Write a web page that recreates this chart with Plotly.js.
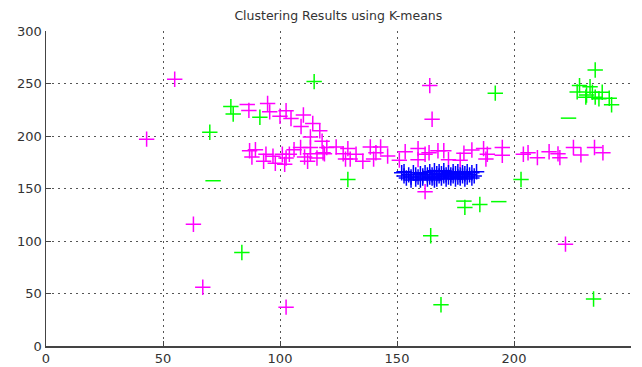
<!DOCTYPE html>
<html>
<head>
<meta charset="utf-8">
<script src="https://cdn.plot.ly/plotly-3.0.1.min.js"></script>
<style>html,body{margin:0;padding:0;background:#fff;}#chart{width:642px;height:367px;}</style>
</head>
<body>
<div id="chart"></div>
<script>
// Cluster 1 (magenta)
var magentaX = [43, 55, 63, 67, 102.6, 164, 165, 162, 222,
  86.7, 94.7, 95.6, 100, 102.6, 104.7, 110, 109, 114, 113, 117, 118, 118.4, 113,
  87, 89.5, 88, 94, 93, 97, 98, 101, 102, 102.6, 104, 106, 108.8, 110.5, 111.8, 113, 115.8, 119, 120,
  124, 127, 128, 129, 130, 132.5, 135.4, 138.6, 140, 141, 143, 146, 151, 153.5, 159, 159, 162, 163.7,
  167.5, 170, 172, 177, 178.6, 182, 187, 188, 188.6, 195, 195, 204, 206, 210, 215, 218.8, 219.6,
  225.4, 228.6, 234.4, 238];
var magentaY = [197, 254, 116, 56, 37, 248, 216, 147, 97,
  224.4, 231, 223, 218.8, 224, 216.6, 220, 209, 212, 199, 205, 195, 184, 189,
  186, 187, 180, 182.6, 176, 180.7, 174, 182.6, 173, 179, 182.6, 187, 189, 180, 176, 183, 179, 183, 189,
  189.5, 183, 178, 188, 178, 182.6, 176, 189.5, 178, 184, 189.5, 181, 177, 185, 188, 177.5, 182.6, 184,
  186, 186, 177.5, 177, 183.5, 186.6, 188, 178, 182.6, 189, 181.6, 182.6, 184, 179.4, 185, 183, 179.4,
  189, 182, 189, 184];
var magentaBarX = [86];
var magentaBarY = [230];

// Cluster 2 (green)
var greenX = [114.6, 79, 80, 91.4, 70, 83.7, 129, 164.4, 168.8, 179, 185.4, 192, 203, 234,
  234.7, 228, 227, 232.5, 231, 233.5, 230.7, 236.3, 237.7, 240.7, 241.7, 234.7];
var greenY = [251.8, 228, 221, 217.8, 203.6, 89, 158.6, 105, 39.3, 132, 134.7, 240.8, 158.6, 44.7,
  262.8, 248, 242, 247, 239, 241.7, 237, 235.4, 241.7, 236, 229.8, 237];
var greenBarX = [71.4, 178.6, 193.5, 223.3];
var greenBarY = [157.4, 138, 137.5, 217];

// Cluster 3 (blue)
var blueX = [152, 153, 154, 155, 156, 157, 158, 158, 159, 160, 161, 161, 162, 163, 163, 164, 164, 165, 165,
  166, 166, 167, 167, 168, 168, 169, 169, 170, 170, 171, 171, 172, 172, 173, 173, 174, 174, 175, 175,
  176, 176, 177, 177, 178, 178, 179, 179, 180, 180, 181, 182, 182, 183, 184, 153, 156, 160, 166];
var blueY = [165, 162, 160, 163, 161, 165, 159, 163, 161, 164, 160, 162, 165, 159, 163, 161, 166, 160, 163,
  167, 161, 164, 159, 162, 166, 160, 164, 162, 167, 159, 163, 165, 161, 160, 163, 166, 162, 159, 164,
  161, 166, 163, 160, 165, 162, 159, 164, 161, 166, 163, 160, 165, 162, 166, 166, 158, 158, 158];

var plusMarker = function (c) {
  return {symbol: 'cross-thin-open', size: 11, line: {color: c, width: 1.5}, color: c};
};
var barMarker = function (c) {
  return {symbol: 'line-ew-open', size: 11, line: {color: c, width: 1.5}, color: c};
};

var traces = [
  {x: magentaX, y: magentaY, type: 'scatter', mode: 'markers', marker: plusMarker('#ff00ff')},
  {x: magentaBarX, y: magentaBarY, type: 'scatter', mode: 'markers', marker: barMarker('#ff00ff')},
  {x: greenX, y: greenY, type: 'scatter', mode: 'markers', marker: plusMarker('#00ff00')},
  {x: greenBarX, y: greenBarY, type: 'scatter', mode: 'markers', marker: barMarker('#00ff00')},
  {x: blueX, y: blueY, type: 'scatter', mode: 'markers', marker: plusMarker('#0000ff')}
];

var axisCommon = {
  showgrid: true, griddash: '1.5px,4.5px', gridcolor: '#555', gridwidth: 1,
  showline: true, linecolor: '#444', linewidth: 1.5,
  ticks: 'inside', ticklen: 5, tickcolor: '#444',
  zeroline: false, mirror: false,
  tickfont: {family: 'DejaVu Sans, sans-serif', size: 13, color: '#333'}
};

var layout = {
  width: 642, height: 367,
  margin: {l: 46, r: 11, t: 31, b: 21},
  paper_bgcolor: '#fff', plot_bgcolor: '#fff',
  showlegend: false,
  title: {text: 'Clustering Results using K-means', x: 0.527, xanchor: 'center', y: 0.958, yanchor: 'middle',
    font: {family: 'DejaVu Sans, sans-serif', size: 12.5, color: '#333'}},
  xaxis: Object.assign({}, axisCommon, {range: [0, 250], dtick: 50, tick0: 0}),
  yaxis: Object.assign({}, axisCommon, {range: [0, 300], dtick: 50, tick0: 0})
};

Plotly.newPlot('chart', traces, layout, {displayModeBar: false, staticPlot: true});
</script>
</body>
</html>
